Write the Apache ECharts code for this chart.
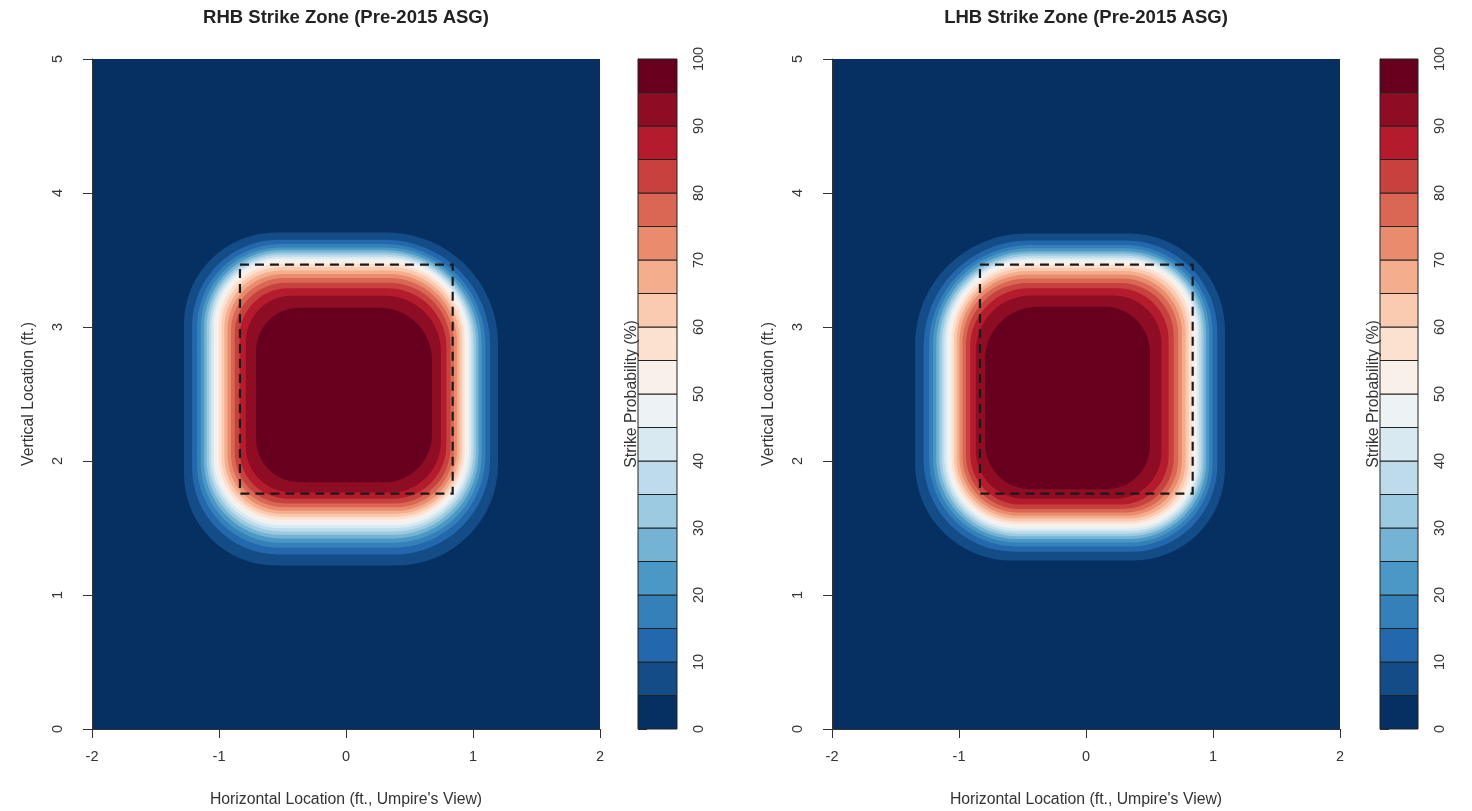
<!DOCTYPE html>
<html>
<head>
<meta charset="utf-8">
<script src="https://cdn.jsdelivr.net/npm/echarts@6/dist/echarts.min.js"></script>
<style>
html,body{margin:0;padding:0;background:#ffffff;}
#chart{width:1472px;height:811px;}
</style>
</head>
<body>
<div id="chart"></div>
<script>
// ---------------- DATA ----------------
const panelTitles = ['RHB Strike Zone (Pre-2015 ASG)', 'LHB Strike Zone (Pre-2015 ASG)'];
const xTitle = "Horizontal Location (ft., Umpire's View)";
const yTitle = 'Vertical Location (ft.)';
const keyTitle = 'Strike Probability (%)';

const xTicks = [-2, -1, 0, 1, 2];
const yTicks = [0, 1, 2, 3, 4, 5];
const keyTicks = [0, 10, 20, 30, 40, 50, 60, 70, 80, 90, 100];

// colour bands of the key (lower bound of each 5% band)
const bandLows = [0, 5, 10, 15, 20, 25, 30, 35, 40, 45, 50, 55, 60, 65, 70, 75, 80, 85, 90, 95];

// contour levels (%) and the extents of each filled contour (ft.)
const contourLevels = [5, 10, 15, 20, 25, 30, 35, 40, 45, 50, 55, 60, 65, 70, 75, 80, 85, 90, 95];

const rhbLeft   = [-1.276, -1.212, -1.173, -1.143, -1.118, -1.097, -1.077, -1.059, -1.041, -1.024, -1.003, -0.981, -0.958, -0.933, -0.906, -0.876, -0.838, -0.789, -0.709];
const rhbRight  = [1.197, 1.135, 1.097, 1.068, 1.044, 1.023, 1.004, 0.987, 0.970, 0.953, 0.934, 0.915, 0.895, 0.874, 0.850, 0.823, 0.790, 0.747, 0.677];
const rhbBottom = [1.220, 1.302, 1.352, 1.390, 1.422, 1.449, 1.474, 1.498, 1.520, 1.542, 1.562, 1.583, 1.605, 1.628, 1.654, 1.683, 1.718, 1.765, 1.841];
const rhbTop    = [3.705, 3.652, 3.619, 3.594, 3.574, 3.556, 3.540, 3.525, 3.510, 3.496, 3.472, 3.448, 3.422, 3.395, 3.365, 3.330, 3.289, 3.233, 3.144];

const lhbLeft   = [-1.346, -1.278, -1.236, -1.205, -1.179, -1.156, -1.135, -1.116, -1.097, -1.079, -1.060, -1.040, -1.019, -0.997, -0.973, -0.945, -0.912, -0.867, -0.795];
const lhbRight  = [1.094, 1.034, 0.997, 0.969, 0.946, 0.926, 0.908, 0.891, 0.874, 0.858, 0.834, 0.809, 0.784, 0.756, 0.726, 0.691, 0.650, 0.594, 0.504];
const lhbBottom = [1.257, 1.322, 1.362, 1.392, 1.417, 1.439, 1.458, 1.477, 1.495, 1.512, 1.531, 1.550, 1.570, 1.592, 1.615, 1.642, 1.675, 1.719, 1.789];
const lhbTop    = [3.698, 3.645, 3.612, 3.587, 3.566, 3.548, 3.532, 3.517, 3.502, 3.488, 3.465, 3.442, 3.417, 3.391, 3.362, 3.329, 3.289, 3.236, 3.151];

// corner rounding of each contour (ft.) and per-corner factors [TL, TR, BR, BL]
const cornerRadius = [0.76, 0.72, 0.69, 0.66, 0.64, 0.62, 0.60, 0.58, 0.56, 0.54, 0.52, 0.50, 0.48, 0.46, 0.44, 0.42, 0.40, 0.38, 0.36];
const rhbCorner = [0.95, 1.15, 1.05, 0.95];
const lhbCorner = [1.15, 1.0, 0.95, 1.0];

// rulebook strike zone [xmin, xmax, ymin, ymax]
const zoneBox = [-0.835, 0.84, 1.757, 3.466];

// RdBu (reversed) palette stops
const paletteStops = ['#053061', '#2166AC', '#4393C3', '#92C5DE', '#D1E5F0', '#F7F7F7', '#FDDBC7', '#F4A582', '#D6604D', '#B2182B', '#67001F'];

// ---------------- HELPERS ----------------
function ramp(stops, n) {
  const rgb = stops.map(h => [parseInt(h.slice(1, 3), 16), parseInt(h.slice(3, 5), 16), parseInt(h.slice(5, 7), 16)]);
  const out = [];
  for (let i = 0; i < n; i++) {
    const t = i / (n - 1) * (stops.length - 1);
    const k = Math.min(Math.floor(t), stops.length - 2);
    const f = t - k;
    const c = rgb[k].map((v, j) => Math.round(v + (rgb[k + 1][j] - v) * f));
    out.push('rgb(' + c.join(',') + ')');
  }
  return out;
}
const palette = ramp(paletteStops, bandLows.length);

const FONT = 'Liberation Sans, Arial, sans-serif';
const TXT = '#333333';

const plotW = 508, plotTop = 59, plotH = 670;
const panels = [
  { left: 92, keyLeft: 638, keyW: 39, L: rhbLeft, R: rhbRight, B: rhbBottom, T: rhbTop, corner: rhbCorner },
  { left: 832, keyLeft: 1380, keyW: 38, L: lhbLeft, R: lhbRight, B: lhbBottom, T: lhbTop, corner: lhbCorner }
];

const grid = [], xAxis = [], yAxis = [], series = [], graphic = [];

panels.forEach((p, k) => {
  const gi = grid.length;
  // main plot
  grid.push({ left: p.left, top: plotTop, width: plotW, height: plotH, show: true, backgroundColor: palette[0], borderWidth: 0 });
  xAxis.push({
    gridIndex: gi, type: 'value', min: xTicks[0], max: xTicks[xTicks.length - 1], interval: 1,
    axisLine: { show: true, onZero: false, lineStyle: { color: '#333', width: 1 } },
    axisTick: { show: true, length: 9, lineStyle: { color: '#333' } },
    axisLabel: { fontSize: 14.5, color: TXT, fontFamily: FONT, margin: 20 },
    splitLine: { show: false }
  });
  yAxis.push({
    gridIndex: gi, type: 'value', min: yTicks[0], max: yTicks[yTicks.length - 1], interval: 1,
    axisLine: { show: true, onZero: false, lineStyle: { color: '#333', width: 1 } },
    axisTick: { show: true, length: 9, lineStyle: { color: '#333' } },
    axisLabel: { fontSize: 14.5, color: TXT, fontFamily: FONT, rotate: 90, margin: 27 },
    splitLine: { show: false }
  });
  // contours
  const cdata = contourLevels.map((lv, i) => [p.L[i], p.R[i], p.B[i], p.T[i], lv]);
  series.push({
    type: 'custom', xAxisIndex: gi, yAxisIndex: gi, clip: true, silent: true,
    data: cdata,
    encode: { x: [0, 1], y: [2, 3] },
    renderItem: (params, api) => {
      const i = params.dataIndex;
      const a = api.coord([api.value(0), api.value(3)]);
      const b = api.coord([api.value(1), api.value(2)]);
      const unit = api.size([1, 0])[0];
      const r = p.corner.map(f => f * cornerRadius[i] * unit);
      const lv = api.value(4);
      return {
        type: 'rect',
        shape: { x: a[0], y: a[1], width: b[0] - a[0], height: b[1] - a[1], r: r },
        style: { fill: palette[bandLows.indexOf(lv)] }
      };
    }
  });
  // strike zone box
  series.push({
    type: 'custom', xAxisIndex: gi, yAxisIndex: gi, clip: true, silent: true, z: 5,
    data: [zoneBox],
    encode: { x: [0, 1], y: [2, 3] },
    renderItem: (params, api) => {
      const a = api.coord([api.value(0), api.value(3)]);
      const b = api.coord([api.value(1), api.value(2)]);
      return {
        type: 'rect',
        shape: { x: a[0], y: a[1], width: b[0] - a[0], height: b[1] - a[1] },
        style: { fill: 'none', stroke: '#1a1a1a', lineWidth: 2.2, lineDash: [9, 6] }
      };
    }
  });

  // colour key
  const ki = grid.length;
  grid.push({ left: p.keyLeft, top: plotTop, width: p.keyW, height: plotH, show: false });
  xAxis.push({ gridIndex: ki, type: 'value', min: 0, max: 1, show: false });
  yAxis.push({
    gridIndex: ki, type: 'value', position: 'right', min: keyTicks[0], max: keyTicks[keyTicks.length - 1], interval: 10,
    axisLine: { show: true, lineStyle: { color: '#333', width: 1 } },
    axisTick: { show: true, length: 9, lineStyle: { color: '#333' } },
    axisLabel: { fontSize: 14.5, color: TXT, fontFamily: FONT, rotate: 90, margin: 14 },
    splitLine: { show: false }
  });
  series.push({
    type: 'custom', xAxisIndex: ki, yAxisIndex: ki, silent: true,
    data: bandLows.map(v => [0, 1, v, v + 5]),
    encode: { x: [0, 1], y: [2, 3] },
    renderItem: (params, api) => {
      const a = api.coord([api.value(0), api.value(3)]);
      const b = api.coord([api.value(1), api.value(2)]);
      return {
        type: 'rect',
        shape: { x: a[0], y: a[1], width: b[0] - a[0], height: b[1] - a[1] },
        style: { fill: palette[params.dataIndex], stroke: '#222', lineWidth: 1 }
      };
    }
  });

  // texts
  const cx = p.left + plotW / 2;
  const cy = plotTop + plotH / 2;
  graphic.push({ type: 'text', x: cx, y: 18, style: { text: panelTitles[k], fontSize: 18.5, fontWeight: 'bold', fontFamily: FONT, fill: '#222', align: 'center', verticalAlign: 'middle' } });
  graphic.push({ type: 'text', x: cx, y: 800, style: { text: xTitle, fontSize: 15.8, fontFamily: FONT, fill: TXT, align: 'center', verticalAlign: 'middle' } });
  graphic.push({ type: 'text', x: p.left - 63, y: cy, rotation: Math.PI / 2, style: { text: yTitle, fontSize: 15.8, fontFamily: FONT, fill: TXT, align: 'center', verticalAlign: 'middle' } });
  graphic.push({ type: 'text', x: p.keyLeft - 6, y: cy, rotation: Math.PI / 2, z: 100, style: { text: keyTitle, fontSize: 15.8, fontFamily: FONT, fill: TXT, align: 'center', verticalAlign: 'middle' } });
});

const chart = echarts.init(document.getElementById('chart'), null, { renderer: 'canvas' });
chart.setOption({
  backgroundColor: '#ffffff',
  animation: false,
  grid: grid,
  xAxis: xAxis,
  yAxis: yAxis,
  series: series,
  graphic: graphic
});
</script>
</body>
</html>
